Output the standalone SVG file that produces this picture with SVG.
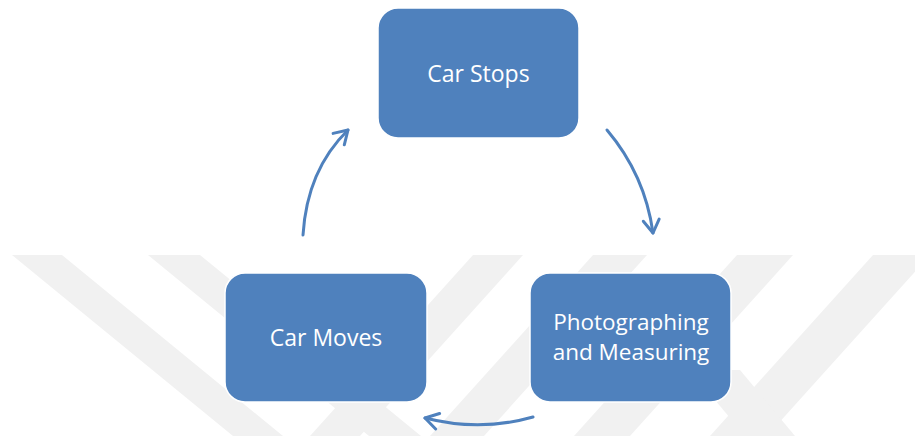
<svg xmlns="http://www.w3.org/2000/svg" width="915" height="436" viewBox="0 0 915 436">
  <style>
    .wm { fill: #f1f1f1; }
    .box { fill: #4f81bd; stroke: #ffffff; stroke-width: 1.5; }
    .lbl { fill: #ffffff; font-family: "Open Sans", "Liberation Sans", sans-serif; font-size: 23px; text-anchor: middle; }
    .lbl2 { fill: #ffffff; font-family: "Open Sans", "Liberation Sans", sans-serif; font-size: 22.5px; text-anchor: middle; }
    .conn { fill: none; stroke: #4f81bd; stroke-width: 3; stroke-linecap: round; }
  </style>
  <defs>
    <marker id="arrow" viewBox="0 0 20 20" refX="16" refY="10" markerWidth="20" markerHeight="20" markerUnits="userSpaceOnUse" orient="auto">
      <path d="M3,2 L16,10 L3,18" fill="none" stroke="#4f81bd" stroke-width="3" stroke-linecap="round" stroke-linejoin="round"/>
    </marker>
  </defs>
  <rect width="915" height="436" fill="#ffffff"/>
  <g id="watermark">
    <polygon class="wm" points="12,255 62,255 283,436 233,436"/>
    <polygon class="wm" points="148,255 200,255 421,436 369,436"/>
    <polygon class="wm" points="473,255 523,255 360,436 310,436"/>
    <polygon class="wm" points="593,255 647,255 484,436 430,436"/>
    <polygon class="wm" points="737,255 793,255 630,436 574,436"/>
    <polygon class="wm" points="873,255 930,255 767,436 710,436"/>
    <polygon class="wm" points="690,370 740,370 795,436 745,436"/>
  </g>
  <g id="connectors">
    <path class="conn" d="M607,130 Q645,175 653,233" marker-end="url(#arrow)"/>
    <path class="conn" d="M533,417 Q480,432 425,418" marker-end="url(#arrow)"/>
    <path class="conn" d="M303,235 Q307,170 348,130" marker-end="url(#arrow)"/>
  </g>
  <g id="car-stops">
    <rect class="box" x="378" y="8" width="201" height="130" rx="20" ry="20"/>
    <text class="lbl" x="478.5" y="82">Car Stops</text>
  </g>
  <g id="photographing">
    <rect class="box" x="530" y="273" width="201" height="129" rx="20" ry="20"/>
    <text class="lbl2" x="631" y="330">Photographing</text>
    <text class="lbl2" x="631" y="360">and Measuring</text>
  </g>
  <g id="car-moves">
    <rect class="box" x="225" y="273" width="202" height="129" rx="20" ry="20"/>
    <text class="lbl" x="326" y="346">Car Moves</text>
  </g>
</svg>
